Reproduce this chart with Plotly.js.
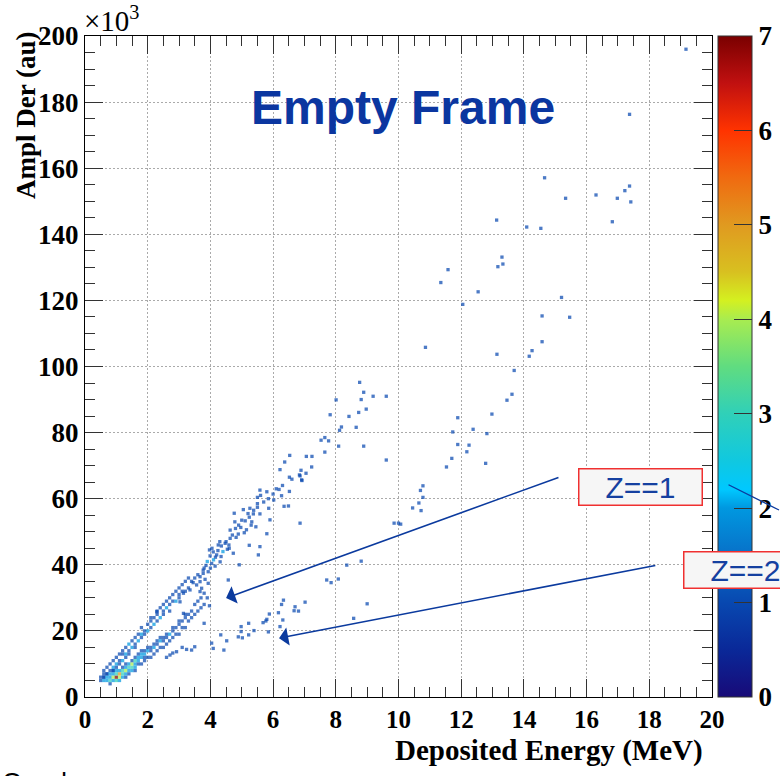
<!DOCTYPE html>
<html>
<head>
<meta charset="utf-8">
<script src="https://cdn.plot.ly/plotly-3.0.1.min.js"></script>
<style>html,body{margin:0;padding:0;background:#fff;}#chart{width:780px;height:776px;}</style>
</head>
<body>
<div id="chart"></div>
<script>
// Values: [Deposited Energy (MeV), Ampl Der (x10^3 au), bin content]
const lowerBandDense = [
[0.5,5,1],[0.5,6,1],
[0.6,5,2],[0.6,6,1],[0.6,7,1],
[0.7,5,2],[0.7,6,2],[0.7,7,1],
[0.8,4,1],[0.8,5,3],[0.8,6,2],[0.8,7,2],
[0.9,5,2],[0.9,6,4],[0.9,7,2],[0.9,8,1],
[1.0,5,3],[1.0,6,7],[1.0,7,3],[1.0,8,2],
[1.1,5,2],[1.1,6,4],[1.1,7,5],[1.1,8,2],
[1.2,6,2],[1.2,7,3],[1.2,8,3],[1.2,9,1],
[1.3,6,1],[1.3,7,2],[1.3,8,4],[1.3,9,2],[1.3,10,1],
[1.4,7,1],[1.4,8,2],[1.4,9,3],[1.4,10,2],
[1.5,8,2],[1.5,9,3],[1.5,10,4],[1.5,11,1],
[1.6,8,1],[1.6,9,2],[1.6,10,2],[1.6,11,3],[1.6,12,1],
[1.7,10,1],[1.7,11,2],[1.7,12,2],[1.7,13,1],
[1.8,10,1],[1.8,12,2],[1.8,13,2],[1.8,14,1],
[1.9,11,1],[1.9,12,1],[1.9,13,2],[1.9,14,1],
[2.0,12,1],[2.0,14,2],[2.0,15,1],
[2.1,12,1],[2.1,14,1],[2.1,15,1],
[2.2,13,1],[2.2,15,2],[2.2,16,1],
[2.3,14,1],[2.3,16,1],[2.3,17,1],
[2.4,15,1],[2.4,17,2],[2.4,18,1],
[2.5,15,1],[2.5,17,1],[2.5,18,1],
[2.6,16,1],[2.6,18,1],[2.6,19,1],
[2.7,17,1],[2.7,19,2],
[2.8,18,1],[2.8,20,1],[2.8,21,1],
[2.9,19,1],[2.9,21,1],
[3.0,19,1],[3.0,22,1],[3.0,23,1],
[3.1,21,1],[3.1,23,1],
[3.2,21,1],[3.2,24,1],[3.2,25,1],
[3.3,23,1],[3.3,25,1],
[3.4,24,1],[3.4,26,1],[3.5,25,1],[3.5,28,1],
[3.6,26,1],[3.6,29,1],[3.7,27,1],[3.7,30,1],[3.8,28,1],[3.9,30,1]
];

const upperBand = [
[0.6,6,1],[0.6,8,1],[0.7,7,1],[0.7,9,1],[0.8,8,1],[0.8,10,1],
[0.9,8,1],[0.9,9,2],[0.9,11,1],[1.0,9,1],[1.0,10,2],[1.0,12,1],
[1.1,10,1],[1.1,11,1],[1.1,13,1],[1.2,11,2],[1.2,13,1],[1.2,14,1],
[1.3,12,1],[1.3,13,2],[1.3,15,1],[1.4,13,1],[1.4,14,1],[1.4,16,2],
[1.5,15,2],[1.5,17,1],[1.6,15,1],[1.6,16,1],[1.6,18,1],
[1.7,17,2],[1.7,19,1],[1.8,18,1],[1.8,19,2],[1.8,21,1],
[1.9,19,1],[1.9,20,1],[2.0,20,2],[2.0,22,1],
[2.1,21,1],[2.1,23,1],[2.1,24,1],[2.2,22,2],[2.2,24,1],
[2.3,23,1],[2.3,25,1],[2.3,26,1],[2.4,24,2],[2.4,27,1],
[2.5,25,1],[2.5,26,1],[2.5,28,1],[2.6,27,2],[2.6,29,1],
[2.7,26,1],[2.7,28,1],[2.7,30,1],[2.8,29,1],[2.8,31,1],
[2.9,29,2],[2.9,32,1],[3.0,30,1],[3.0,31,1],[3.0,33,1],
[3.1,32,1],[3.1,34,1],[3.2,32,1],[3.2,35,1],
[3.3,33,1],[3.3,36,1],
[3.14,31.4,1],[3.03,28.8,1],[3.14,25.3,1],[2.29,25.8,1],
[3.45,34.6,1],[3.35,32.4,1],[3.56,33.9,1],[3.67,36.4,1],[3.67,34.9,1],[3.67,31.9,1],
[3.72,32.9,1],[3.77,38.4,1],[3.77,37.4,1],[3.80,31.4,1],[3.83,35.6,1],[3.86,39.8,1],
[3.93,37.9,1],[3.93,34.4,1],[3.97,44.5,1],[3.99,42.7,1],[4.04,40.4,1],[4.09,43.9,1],
[4.15,39.6,1],[4.16,42.3,1],[4.24,44.3,1],[4.31,40.9,1],[4.34,42.5,1],[4.35,45.7,1],
[4.47,46.5,1],[4.54,44.7,1],[4.59,46.0,1],[4.63,50.5,1],[4.63,48.0,1],[4.76,55.6,1],
[4.78,53.0,1],[4.82,48.3,1],[4.89,49.3,1],[4.97,51.3,1],[5.05,56.7,1],[5.08,49.7,1],
[5.11,53.3,1],[5.15,50.6,1],[5.24,54.4,1],[5.26,57.1,1],[5.32,53.0,1],[5.37,55.4,1],
[5.38,56.5,1],[5.45,51.5,1],[5.50,57.4,1],[5.50,60.4,1],[5.58,55.4,1],[5.58,62.6,1],
[5.80,62.1,1],[5.85,60.0,1],[5.86,57.1,1],[5.90,53.6,1],[6.00,61.4,1],[6.02,59.6,1],
[6.19,62.8,1],[6.22,68.8,1],[6.27,60.9,1],[6.35,57.7,1],[6.37,71.1,1],[6.49,57.8,1],
[6.52,62.2,1],[6.52,66.5,1],[6.53,73.1,1],[6.60,65.9,1],[6.84,67.2,1],[6.92,65.5,1],
[7.06,72.8,1],[7.24,72.8,1],
[4.1,41.5,2],[4.2,43,1],[4.4,44,2],[4.5,47,1],[4.7,49,1],[4.9,52,1],[5.0,53.5,1],
[4.3,47,1],[4.0,39,1],[3.9,41,2],[4.6,45,1],[5.2,55.5,1],[5.5,58.5,1],[5.7,59,1],
[5.6,61,1],[6.1,63,1],[6.3,64,1],[4.8,51,1],[5.3,52,1],[3.5,36,1],[3.6,37,1],
[3.4,35,1],[3.8,39,1],[4.05,45,1],[4.25,46,1]
];

const lowerSparse = [
[2.71,12.7,1],[2.92,13.7,1],[3.24,14.4,1],[3.40,14.2,1],[2.8,13.3,1],[3.1,15,1],[2.6,12,1],[3.5,15.2,1],
[3.97,27.6,1],[3.80,22.3,1],[4.04,16.3,1],[4.09,14.7,1],[4.43,14.2,1],[4.33,18.8,1],[4.52,17.0,1],
[4.89,18.2,1],[5.02,17.9,1],[5.22,18.8,1],[4.98,19.8,1],[4.98,21.3,1],[5.39,20.1,1],[5.22,22.3,1],
[5.68,22.5,1],[5.77,23.0,1],[5.85,19.7,1],[5.80,23.5,1],[5.88,25.1,1],[6.17,25.5,1],[6.22,21.3,1],
[6.31,23.3,1],[6.27,28.0,1],[6.33,29.3,1],[6.67,26.1,1],[6.70,27.3,1],[6.81,26.0,1],[7.02,28.7,1],
[7.71,35.4,1],[7.85,34.6,1],[8.08,35.7,1],[8.35,39.9,1],[8.81,41.1,1],[8.57,23.8,1],[9.0,28.2,1],
[4.57,35.4,1],[4.92,40.0,1],[5.24,45.9,1],[5.58,45.5,1],[4.73,43.5,1],[5.53,43.0,1],[5.80,49.4,1]
];

const highSparse = [
[19.17,196.0,1],[17.37,176.3,1],[14.66,157.1,1],[15.33,150.9,1],[16.30,151.9,1],[16.98,150.9,1],
[17.22,153.2,1],[17.37,154.6,1],[17.41,149.8,1],[16.82,143.8,1],[13.13,144.3,1],[14.09,142.2,1],
[14.54,141.8,1],[13.30,133.1,1],[13.17,130.2,1],[13.33,131.0,1],[11.58,129.3,1],[11.35,125.4,1],
[12.54,122.6,1],[12.05,118.8,1],[15.20,120.9,1],[14.58,115.3,1],[15.46,114.9,1],[14.58,107.5,1],
[14.26,104.8,1],[14.17,103.1,1],[13.14,103.7,1],[10.86,105.8,1],[13.69,98.8,1],[13.62,91.6,1],
[13.46,89.8,1],[12.98,85.6,1],[12.38,81.0,1],[12.82,79.7,1],[11.89,84.5,1],[11.73,80.2,1],
[11.89,76.4,1],[12.25,76.2,1],[12.18,74.2,1],[11.70,72.2,1],[11.53,69.6,1],[12.78,70.7,1],
[8.76,95.2,1],[8.89,92.2,1],[9.19,91.0,1],[9.61,91.0,1],[8.01,89.9,1],[8.81,90.0,1],
[8.97,87.1,1],[7.82,85.4,1],[8.42,84.9,1],[8.73,86.1,1],[8.18,81.7,1],[8.65,81.6,1],
[8.12,80.7,1],[7.65,78.5,1],[7.53,77.7,1],[7.77,77.5,1],[8.09,75.9,1],[8.89,75.9,1],
[7.65,74.1,1],[7.23,69.6,1],[9.61,71.7,1],[7.05,67.7,1],[6.89,68.6,1],
[10.78,63.9,1],[10.70,62.5,1],[10.78,60.4,1],[10.65,58.7,1],[10.45,57.2,1],[10.72,56.4,1],
[9.86,52.6,1],[10.0,52.6,1],[10.07,52.3,1],[6.86,52.6,1],[6.91,65.7,1],[6.86,66.9,1]
];

const colorTicks = [0,1,2,3,4,5,6,7];
const xTickVals = [0,2,4,6,8,10,12,14,16,18,20];
const yTickVals = [0,20,40,60,80,100,120,140,160,180,200];

// arrows: [tipE, tipA, tailE, tailA]
const arrowZ1 = [4.50, 29.95, 15.15, 66.6];
const arrowZ2 = [6.19, 17.8, 18.24, 39.9];

const rootRainbow = [
[0.000,'#180a78'],[0.071,'#0a2898'],[0.143,'#0848b0'],[0.214,'#0870c8'],
[0.286,'#0098e0'],[0.314,'#00c8ff'],[0.357,'#10c8e0'],[0.429,'#30d0b8'],
[0.500,'#60dc80'],[0.571,'#a8ec50'],[0.600,'#d4f020'],[0.643,'#d8c020'],
[0.714,'#e09a20'],[0.786,'#f06a10'],[0.857,'#ff3300'],[0.929,'#c01010'],
[1.000,'#7a0000']
];

function toTrace(rows, name) {
  return {
    type: 'scatter', mode: 'markers', name: name,
    x: rows.map(r => r[0]), y: rows.map(r => r[1]),
    marker: {symbol: 'square', size: 3.3, color: rows.map(r => r[2]),
             coloraxis: 'coloraxis', opacity: 0.72, line: {width: 0}},
    hoverinfo: 'skip', cliponaxis: true
  };
}

const data = [
  toTrace(highSparse, 'high'),
  toTrace(lowerSparse, 'lowerSparse'),
  toTrace(upperBand, 'Z==1'),
  toTrace(lowerBandDense, 'Z==2')
];

const serifBold = {family: 'Liberation Serif', size: 27, color: '#000', weight: 'bold'};
const serifBoldX = {family: 'Liberation Serif', size: 25, color: '#000', weight: 'bold'};
const arrowBlue = '#0b3a9e';

function axis(range, tickvals, minorDtick, font) {
  return {
    range: range, tickmode: 'array', tickvals: tickvals,
    ticks: 'inside', ticklen: 18, tickwidth: 1, tickcolor: '#333',
    minor: {dtick: minorDtick, ticks: 'inside', ticklen: 10, tickwidth: 1, tickcolor: '#333', showgrid: false},
    mirror: 'allticks', showline: true, linecolor: '#000', linewidth: 1,
    showgrid: true, gridcolor: '#aaa', gridwidth: 1, griddash: '2px,2px',
    zeroline: false, tickfont: font, fixedrange: true
  };
}

const xa = axis([0,20], xTickVals, 0.5, serifBoldX);
const ya = axis([0,200], yTickVals, 5, serifBold);

const layout = {
  width: 780, height: 776,
  margin: {l: 85, r: 68, t: 36, b: 79, autoexpand: false},
  paper_bgcolor: '#fff', plot_bgcolor: '#fff',
  showlegend: false,
  xaxis: xa, yaxis: ya,
  coloraxis: {
    cmin: 0, cmax: 7, colorscale: rootRainbow,
    colorbar: {
      x: 1.0096, xanchor: 'left', xpad: 0, ypad: 0, y: 0.5, yanchor: 'middle',
      len: 1, lenmode: 'fraction', thickness: 34, thicknessmode: 'pixels',
      outlinewidth: 1, outlinecolor: '#333',
      tickmode: 'array', tickvals: colorTicks,
      ticks: 'inside', ticklen: 18, tickwidth: 1, tickcolor: '#333',
      tickfont: serifBold
    }
  },
  annotations: [
    {text: 'Empty Frame', xref: 'paper', yref: 'paper', x: 0.507, y: 0.892,
     xanchor: 'center', yanchor: 'middle', showarrow: false,
     font: {family: 'Liberation Sans', size: 48, color: '#0b36a0', weight: 'bold'}},
    {text: '×10<sup>3</sup>', xref: 'paper', yref: 'paper', x: -0.004, y: 0.996, xanchor: 'left', yanchor: 'bottom',
     showarrow: false, font: {family: 'Liberation Serif', size: 29, color: '#000'}},
    {text: 'Ampl Der (au)', xref: 'paper', yref: 'paper', x: -0.094, y: 0.879, xanchor: 'center', yanchor: 'middle',
     textangle: -90, showarrow: false, font: {family: 'Liberation Serif', size: 27, color: '#000', weight: 'bold'}},
    {text: 'Deposited Energy (MeV)', xref: 'paper', yref: 'paper', x: 0.989, y: -0.0805, xanchor: 'right', yanchor: 'middle',
     showarrow: false, font: {family: 'Liberation Serif', size: 29, color: '#000', weight: 'bold'}},
    {text: '', x: arrowZ1[0], y: arrowZ1[1], ax: arrowZ1[2], ay: arrowZ1[3], xref: 'x', yref: 'y', axref: 'x', ayref: 'y',
     showarrow: true, arrowhead: 1, arrowsize: 1.9, arrowwidth: 1.6, arrowcolor: arrowBlue, standoff: 0, startstandoff: 0},
    {text: '', x: arrowZ2[0], y: arrowZ2[1], ax: arrowZ2[2], ay: arrowZ2[3], xref: 'x', yref: 'y', axref: 'x', ayref: 'y',
     showarrow: true, arrowhead: 1, arrowsize: 1.9, arrowwidth: 1.6, arrowcolor: arrowBlue, standoff: 0, startstandoff: 0},
    {text: '', xref: 'paper', yref: 'paper', x: 1.1085, y: 0.2829, ax: -53, ay: -26,
     showarrow: true, arrowhead: 0, arrowwidth: 1.3, arrowcolor: arrowBlue, standoff: 0},
    {text: 'Z==1', xref: 'paper', yref: 'paper', x: 0.7863, y: 0.3464, xanchor: 'left', yanchor: 'top',
     width: 122, height: 35, align: 'center', valign: 'middle', showarrow: false,
     bgcolor: '#f6f6f6', bordercolor: '#f03030', borderwidth: 1.5, borderpad: 0,
     font: {family: 'Liberation Sans', size: 30, color: '#1540a0'}},
    {text: 'Z==2', xref: 'paper', yref: 'paper', x: 0.9537, y: 0.2209, xanchor: 'left', yanchor: 'top',
     width: 122, height: 35, align: 'center', valign: 'middle', showarrow: false,
     bgcolor: '#f6f6f6', bordercolor: '#f03030', borderwidth: 1.5, borderpad: 0,
     font: {family: 'Liberation Sans', size: 30, color: '#1540a0'}},
    {text: 'Our d', xref: 'paper', yref: 'paper', x: -0.1356, y: -0.103, xanchor: 'left', yanchor: 'top',
     showarrow: false, font: {family: 'Liberation Sans', size: 26, color: '#000'}}
  ]
};

Plotly.newPlot('chart', data, layout, {displayModeBar: false, staticPlot: true});
</script>
</body>
</html>
